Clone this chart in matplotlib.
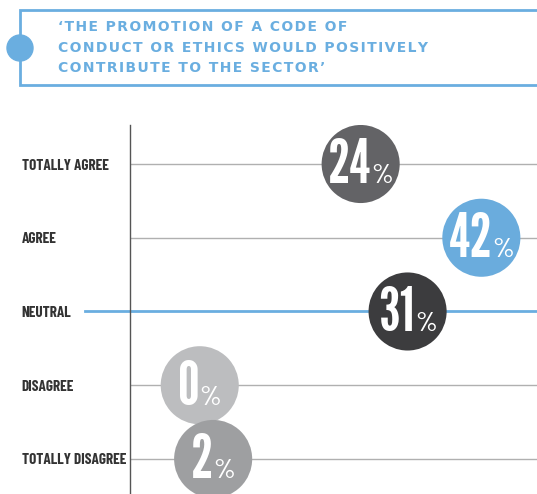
import matplotlib.pyplot as plt
from matplotlib.patches import Circle
from matplotlib.offsetbox import TextArea, HPacker, AnnotationBbox

# survey answers, top row first
categories = ['TOTALLY AGREE', 'AGREE', 'NEUTRAL', 'DISAGREE', 'TOTALLY DISAGREE']
shares = [24, 42, 31, 0, 2]
title_lines = ['\u2018THE PROMOTION OF A CODE OF',
               'CONDUCT OR ETHICS WOULD POSITIVELY',
               'CONTRIBUTE TO THE SECTOR\u2019']

# styling
W, H = 537, 494
blue = '#6aaee0'
bubble_colors = ['#636366', '#6aacdd', '#3c3c3e', '#bcbdbf', '#9e9fa1']
narrow = ['Barlow Condensed', 'DejaVu Sans']
gothic = ['League Gothic', 'Barlow Condensed', 'DejaVu Sans']


def spaced(s):
    # poor man's letter spacing
    return '\u200a'.join(s)


fig = plt.figure(figsize=(W / 100, H / 100), dpi=100)

# pixel-coordinate layer for the title box
bg = fig.add_axes([0, 0, 1, 1])
bg.set_xlim(0, W)
bg.set_ylim(H, 0)
bg.axis('off')
bg.plot([W, 20, 20, W], [10, 10, 85, 85], color=blue, lw=2, solid_joinstyle='miter')
bg.add_patch(Circle((20, 48), 13, color=blue))
for i, line in enumerate(title_lines):
    bg.text(58, 27 + 20.5 * i, spaced(line), color=blue, fontsize=10,
            fontweight='bold', va='center', ha='left', family='DejaVu Sans')

# the chart itself
ax = fig.add_axes([130 / W, 0, (W - 130) / W, (H - 125) / H])
ax.set_xlim(-10.4, 50.3)
ax.set_ylim(4.475, -0.529)
for side in ['top', 'right', 'bottom']:
    ax.spines[side].set_visible(False)
ax.spines['left'].set_color('#555555')
ax.spines['left'].set_linewidth(1)
ax.set_xticks([])
ax.set_yticks(range(len(categories)), categories)
ax.tick_params(axis='y', length=0, pad=78)
for lab in ax.get_yticklabels():
    lab.set_ha('left')
    lab.set_family(narrow)
    lab.set_fontweight('bold')
    lab.set_fontsize(11)
    lab.set_color('#333333')

for i, cat in enumerate(categories):
    if cat == 'NEUTRAL':
        ax.axhline(i, xmin=(85 - 130) / (W - 130), xmax=1, color=blue, lw=2,
                   clip_on=False, zorder=1)
    else:
        ax.axhline(i, color='#b0b0b0', lw=1, zorder=1)

ax.scatter(shares, range(len(shares)), s=3160, c=bubble_colors, zorder=3,
           linewidths=0)

for i, v in enumerate(shares):
    num = TextArea(str(v), textprops=dict(color='white', fontsize=44,
                                          family=gothic))
    pct = TextArea('%', textprops=dict(color='white', fontsize=20,
                                       fontweight=500, family=narrow))
    box = HPacker(children=[num, pct], pad=0, sep=0, align='baseline')
    ab = AnnotationBbox(box, (v, i), frameon=False, box_alignment=(0.5, 0.55),
                        zorder=4)
    ax.add_artist(ab)

fig.savefig('out.png', dpi=100)
